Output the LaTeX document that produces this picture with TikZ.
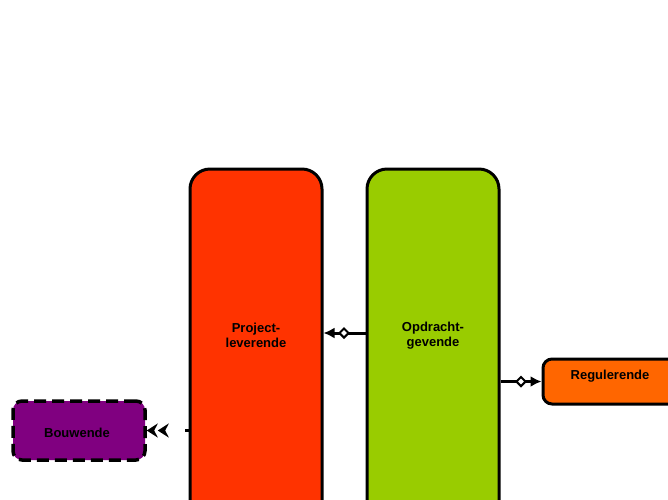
\documentclass[tikz,border=0pt]{standalone}
\usepackage{fontspec}
\setmainfont{Liberation Sans}
\usetikzlibrary{arrows.meta,shapes.geometric}
\begin{document}
\begin{tikzpicture}[x=1pt,y=-1pt,
  bigbox/.style={draw=black,line width=3pt,rounded corners=20pt,minimum width=132pt,minimum height=371pt,inner sep=0pt},
  smallbox/.style={draw=black,line width=3pt,rounded corners=9pt,inner sep=0pt},
  lbl/.style={font=\fontsize{13}{15.5}\selectfont\bfseries,align=center,inner sep=0pt},
  conn/.style={line width=3pt},
  dia/.style={diamond,draw=black,fill=white,line width=2pt,inner sep=0pt,minimum width=10pt,minimum height=10pt}
]
\useasboundingbox (0,0) rectangle (668,499);
\clip (0,0) rectangle (668,499);
\node[bigbox,fill={rgb,255:red,255;green,51;blue,0}] (pl) at (256,354.5) {};
\node[bigbox,fill={rgb,255:red,153;green,204;blue,0}] (og) at (433,354.5) {};
\node[smallbox,fill={rgb,255:red,255;green,102;blue,0},minimum width=160pt,minimum height=45pt] (rg) at (623,381.5) {};
\node[smallbox,fill={rgb,255:red,128;green,0;blue,128},dash pattern=on 12pt off 6pt,minimum width=132pt,minimum height=59pt,line width=3.5pt] (bw) at (79,430.5) {};
\node[lbl] (plt) at (256,335.5) {Project-\\leverende};
\node[lbl] (ogt) at (433,335.5) {Opdracht-\\gevende};
\node[lbl] (rgt) at (610,376) {Regulerende};
\node[lbl] (bwt) at (77,433) {Bouwende};
\draw[conn,-{Latex[length=11pt,width=11pt]}] (og.west |- 0,333) -- (pl.east |- 0,333);
\node[dia] (d1) at (344,333) {};
\draw[conn,-{Latex[length=11pt,width=11pt]}] (og.east |- rg.west) -- (rg.west);
\node[dia] (d2) at (521,381.5) {};
\draw[conn,dash pattern=on 4pt off 20pt,-{Stealth[length=11pt,width=14pt]Stealth[length=11pt,width=14pt]}] (pl.west |- bw.east) -- (bw.east);
\end{tikzpicture}
\end{document}
